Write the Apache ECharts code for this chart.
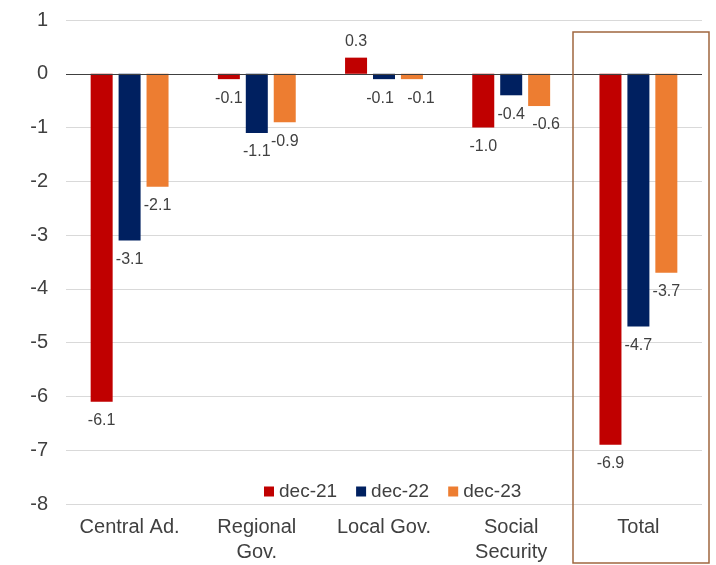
<!DOCTYPE html>
<html>
<head>
<meta charset="utf-8">
<script src="https://cdn.jsdelivr.net/npm/echarts@6/dist/echarts.min.js"></script>
<style>
  html, body { margin: 0; padding: 0; background: #fff; }
  #chart { width: 716px; height: 565px; }
</style>
</head>
<body>
<div id="chart"></div>
<script>
const categories = ['Central Ad.', 'Regional\nGov.', 'Local Gov.', 'Social\nSecurity', 'Total']
const seriesNames = ['dec-21', 'dec-22', 'dec-23']
const dec21 = [-6.1, -0.1, 0.3, -1.0, -6.9]
const dec22 = [-3.1, -1.1, -0.1, -0.4, -4.7]
const dec23 = [-2.1, -0.9, -0.1, -0.6, -3.7]
const colors = ['#c00000', '#002060', '#ed7d31']

// small sideways nudges so crowded labels don't overlap (series index -> category index -> px)
const labelShift = { 1: { 2: -4 }, 2: { 2: 9, 3: 7 } }

const chart = echarts.init(document.getElementById('chart'))
const font = "'Liberation Sans', Arial, sans-serif"

const makeData = (arr, si) => arr.map((v, ci) => ({
  value: v,
  label: {
    position: v >= 0 ? 'top' : 'bottom',
    distance: v >= 0 ? 8 : 11,
    offset: [(labelShift[si] && labelShift[si][ci]) || 0, 0]
  }
}))

const makeSeries = (name, arr, i) => ({
  name: name,
  type: 'bar',
  data: makeData(arr, i),
  barWidth: 22,
  barGap: '27%',
  itemStyle: { color: colors[i] },
  label: {
    show: true,
    formatter: p => p.value.toFixed(1),
    color: '#404040',
    fontSize: 16,
    fontFamily: font
  },
  markLine: i === 0 ? {
    silent: true,
    symbol: 'none',
    label: { show: false },
    lineStyle: { color: '#404040', width: 1, type: 'solid' },
    data: [{ yAxis: 0 }]
  } : undefined
})

const option = {
  animation: false,
  color: colors,
  grid: { left: 66, right: 14, top: 20, bottom: 56 },
  legend: {
    data: seriesNames,
    left: 259,
    top: 477,
    icon: 'rect',
    itemWidth: 10,
    itemHeight: 10,
    itemGap: 19,
    textStyle: { fontSize: 19, color: '#404040', fontFamily: font }
  },
  xAxis: {
    type: 'category',
    data: categories,
    axisLine: { show: false, onZero: false },
    axisTick: { show: false },
    axisLabel: {
      margin: 11,
      fontSize: 20,
      lineHeight: 25,
      color: '#404040',
      fontFamily: font,
      interval: 0
    }
  },
  yAxis: {
    type: 'value',
    min: -8,
    max: 1,
    interval: 1,
    axisLine: { show: false },
    axisTick: { show: false },
    splitLine: { lineStyle: { color: '#d9d9d9', width: 1 } },
    axisLabel: {
      margin: 18,
      fontSize: 20,
      color: '#404040',
      fontFamily: font
    }
  },
  graphic: [{
    type: 'rect',
    shape: { x: 573, y: 32, width: 136, height: 531 },
    style: { fill: 'none', stroke: '#a0673f', lineWidth: 1.5 },
    z: 10
  }],
  series: [
    makeSeries(seriesNames[0], dec21, 0),
    makeSeries(seriesNames[1], dec22, 1),
    makeSeries(seriesNames[2], dec23, 2)
  ]
}

chart.setOption(option, true)
window.addEventListener('resize', () => chart.resize())
</script>
</body>
</html>
